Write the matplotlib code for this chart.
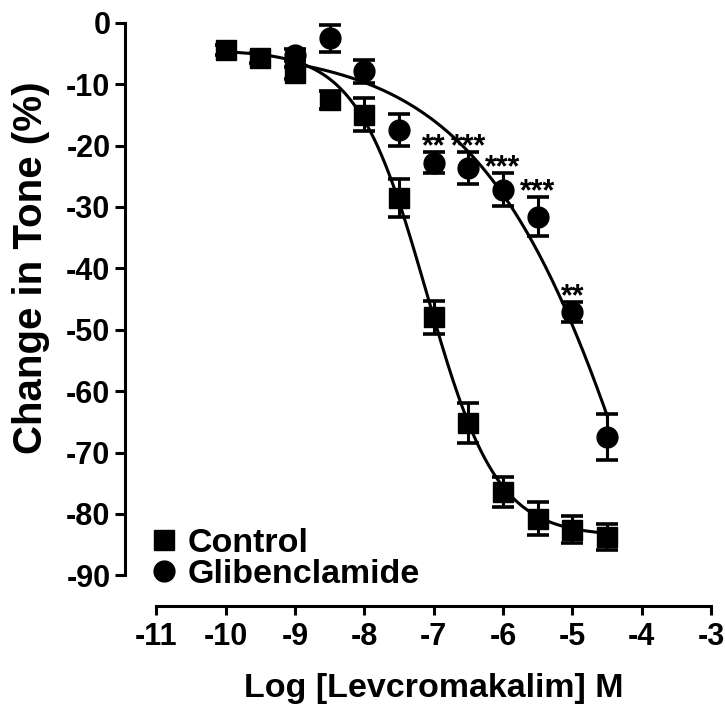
import numpy as np
import matplotlib
matplotlib.use("Agg")
import matplotlib.pyplot as plt

plt.rcParams['font.family'] = ['Liberation Sans', 'DejaVu Sans']
plt.rcParams['font.weight'] = 'bold'
plt.rcParams['axes.unicode_minus'] = False

# Concentration-response data (mean +/- SEM, % change in tone)
log_conc = [-10, -9.5, -9, -8.5, -8, -7.5, -7, -6.5, -6, -5.5, -5, -4.5]
control_mean = [-4.4, -5.7, -8.2, -12.6, -15.0, -28.6, -48.0, -65.2, -76.4, -80.8, -82.6, -83.7]
control_sem = [0.8, 0.8, 1.0, 1.5, 2.7, 3.1, 2.7, 3.2, 2.4, 2.7, 2.2, 2.1]

glib_log_conc = [-9, -8.5, -8, -7.5, -7, -6.5, -6, -5.5, -5, -4.5]
glib_mean = [-5.3, -2.5, -7.9, -17.5, -22.8, -23.7, -27.2, -31.6, -47.1, -67.5]
glib_sem = [1.0, 2.2, 1.9, 2.6, 1.7, 2.6, 2.7, 3.2, 1.6, 3.7]

# Significance vs control
sig_conc = [-7, -6.5, -6, -5.5, -5]
sig_labels = ['**', '***', '***', '***', '**']

# Sigmoidal (variable slope) fit parameters: top, bottom, logEC50, Hill slope
control_fit = (-4.5, -83.6, -7.1, 0.86)
glib_fit = (-4.0, -200.0, -3.43, 0.333)

x_ticks = [-11, -10, -9, -8, -7, -6, -5, -4, -3]
y_ticks = [0, -10, -20, -30, -40, -50, -60, -70, -80, -90]


def hill(x, top, bottom, logec50, slope):
    return bottom + (top - bottom) / (1.0 + 10.0 ** ((x - logec50) * slope))


W, H = 725, 711
fig = plt.figure(figsize=(W / 100, H / 100), dpi=100)
ax = fig.add_axes([125 / W, 1 - 606 / H, (711 - 125) / W, (606 - 22.7) / H])

lw = 2.2
# fitted curves
xc = np.linspace(min(log_conc), max(log_conc), 300)
ax.plot(xc, hill(xc, *control_fit), color='black', lw=lw, zorder=2)
xg = np.linspace(min(glib_log_conc), max(glib_log_conc), 300)
ax.plot(xg, hill(xg, *glib_fit), color='black', lw=lw, zorder=2)

# error bars
ax.errorbar(log_conc, control_mean, yerr=control_sem, fmt='none', ecolor='black',
            elinewidth=lw, capsize=8, capthick=2.6, zorder=3, clip_on=False)
ax.errorbar(glib_log_conc, glib_mean, yerr=glib_sem, fmt='none', ecolor='black',
            elinewidth=lw, capsize=8, capthick=2.6, zorder=3, clip_on=False)

# markers
ax.plot(log_conc, control_mean, linestyle='none', marker='s', markersize=14.5,
        color='black', label='Control', zorder=4, clip_on=False)
ax.plot(glib_log_conc, glib_mean, linestyle='none', marker='o', markersize=15,
        color='black', label='Glibenclamide', zorder=4, clip_on=False)

# significance stars above the glibenclamide points
for xs, lab in zip(sig_conc, sig_labels):
    i = glib_log_conc.index(xs)
    top = glib_mean[i] + glib_sem[i]
    ax.annotate(lab, (xs, top), xytext=(0, -2), textcoords='offset points',
                ha='center', va='baseline', fontsize=22, fontweight='bold')

ax.set_xlim(-11.45, -3.0)
ax.set_ylim(-95, 0)
ax.set_xticks(x_ticks)
ax.set_yticks(y_ticks)
ax.set_xticklabels([str(v) for v in x_ticks])
ax.set_yticklabels([str(v) for v in y_ticks])

for s in ['top', 'right']:
    ax.spines[s].set_visible(False)
ax.spines['left'].set_bounds(-90, 0)
ax.spines['bottom'].set_bounds(-11, -3)
ax.spines['left'].set_linewidth(2.2)
ax.spines['bottom'].set_linewidth(2.2)
ax.tick_params(axis='both', width=2.2, labelsize=22, direction='out')
ax.tick_params(axis='y', length=7, pad=3.5)
ax.tick_params(axis='x', length=6.5, pad=5)

ax.set_xlabel('Log [Levcromakalim] M', fontsize=24.5, fontweight='bold')
ax.xaxis.set_label_coords((433.5 - 125) / (711 - 125), -(688 - 606) / (606 - 22.7))
ax.xaxis.label.set_va('center')
ax.set_ylabel('Change in Tone (%)', fontsize=29, fontweight='bold')
ax.yaxis.set_label_coords(-(125 - 31) / (711 - 125), (606 - 268) / (606 - 22.7))
ax.yaxis.label.set_va('center')

leg = ax.legend(loc='lower left', bbox_to_anchor=(150 / W, 1 - 590 / H),
                bbox_transform=fig.transFigure, frameon=False, fontsize=24.5,
                handlelength=0.8, handletextpad=0.3, labelspacing=0.0,
                borderpad=0, borderaxespad=0, markerscale=1.0)

fig.savefig('out.png', dpi=100)
